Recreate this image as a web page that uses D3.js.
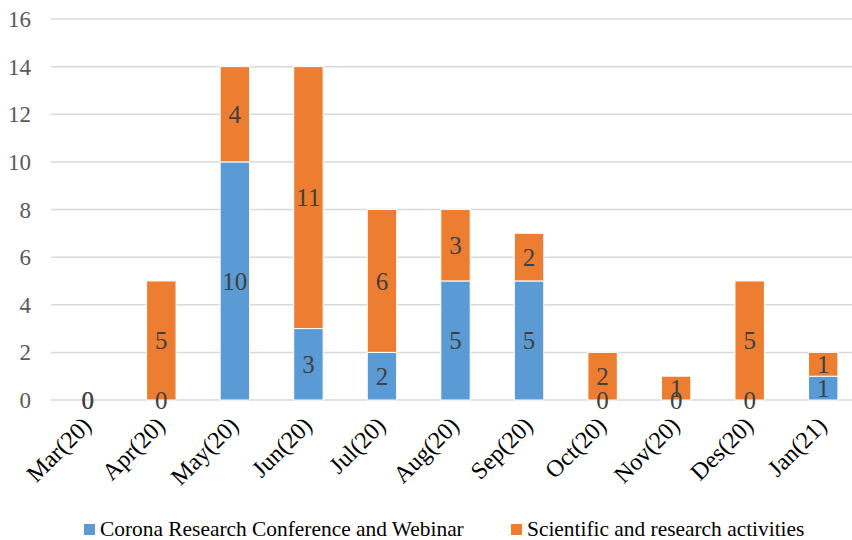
<!DOCTYPE html>
<html>
  <head>
    <meta charset="utf-8">
    <title>Corona research activities</title>
    <style>
    body{
      margin: 0;
      background: #fff;
    }
    </style>
    <script src="https://d3js.org/d3.v7.min.js"></script>
  </head>
  <body>
    <div id="container"></div>
    <script>
    //size of the picture
    const width = 852,
          height = 540;

    //chart data
    var months = ["Mar(20)", "Apr(20)", "May(20)", "Jun(20)", "Jul(20)", "Aug(20)",
                  "Sep(20)", "Oct(20)", "Nov(20)", "Des(20)", "Jan(21)"];
    var conference = [0, 0, 10, 3, 2, 5, 5, 0, 0, 0, 1];
    var scientific = [0, 5, 4, 11, 6, 3, 2, 2, 1, 5, 1];
    var seriesNames = ["Corona Research Conference and Webinar", "Scientific and research activities"];
    var yTicks = [0, 2, 4, 6, 8, 10, 12, 14, 16];

    var colors = ["#5b9bd5", "#ed7d31"];
    var serif = "'Liberation Serif', 'Times New Roman', Times, 'DejaVu Serif', serif";

    //plot area (not called "top", that one belongs to window)
    var plotLeft = 51, plotRight = 860, plotTop = 19, plotBottom = 400;

    var rows = months.map(function(m, i){
      return {month: m, conference: conference[i], scientific: scientific[i]};
    });
    var stacked = d3.stack().keys(["conference", "scientific"])(rows);

    var x = d3.scaleBand()
      .domain(months)
      .range([plotLeft, plotRight])
      .paddingInner(0.6)
      .paddingOuter(0.3);

    var y = d3.scaleLinear()
      .domain([0, 16])
      .range([plotBottom, plotTop]);

    var svg = d3.select("#container")
      .append("svg")
      .attr("width", width)
      .attr("height", height)
      .attr("font-family", serif)
      .style("display", "block");

    //gridlines
    svg.append("g")
      .selectAll("line")
      .data(yTicks)
      .enter()
      .append("line")
      .attr("x1", plotLeft)
      .attr("x2", plotRight)
      .attr("y1", function(d){ return y(d); })
      .attr("y2", function(d){ return y(d); })
      .attr("stroke", "#d9d9d9")
      .attr("stroke-width", 1.5);

    //y axis labels
    svg.append("g")
      .selectAll("text")
      .data(yTicks)
      .enter()
      .append("text")
      .attr("x", 31)
      .attr("y", function(d){ return y(d); })
      .attr("dy", "0.35em")
      .attr("text-anchor", "end")
      .attr("font-size", 23)
      .attr("fill", "#595959")
      .text(function(d){ return d; });

    //bars
    var groups = svg.append("g")
      .selectAll("g")
      .data(stacked)
      .enter()
      .append("g")
      .attr("fill", function(d, i){ return colors[i]; });

    groups.selectAll("rect")
      .data(function(d){ return d; })
      .enter()
      .append("rect")
      .attr("x", function(d){ return x(d.data.month); })
      .attr("y", function(d){ return y(d[1]); })
      .attr("width", x.bandwidth())
      .attr("height", function(d){ return y(d[0]) - y(d[1]); })
      .attr("stroke", "#fff")
      .attr("stroke-width", function(d){ return d[1] > d[0] ? 1 : 0; });

    //value labels in the middle of each segment, drawn after all bars
    var labelGroups = svg.append("g")
      .selectAll("g")
      .data(stacked)
      .enter()
      .append("g");

    labelGroups.selectAll("text")
      .data(function(d){ return d; })
      .enter()
      .append("text")
      .attr("x", function(d){ return x(d.data.month) + x.bandwidth() / 2; })
      .attr("y", function(d){ return y((d[0] + d[1]) / 2); })
      .attr("dy", "0.35em")
      .attr("text-anchor", "middle")
      .attr("font-size", 25)
      .attr("fill", "#404040")
      .text(function(d){ return d[1] - d[0]; });

    //x axis labels, rotated
    svg.append("g")
      .selectAll("text")
      .data(months)
      .enter()
      .append("text")
      .attr("transform", function(d){
        return "translate(" + (x(d) + x.bandwidth() / 2 + 5) + "," + (plotBottom + 27) + ") rotate(-45)";
      })
      .attr("text-anchor", "end")
      .attr("font-size", 24)
      .attr("fill", "#000")
      .text(function(d){ return d; });

    //legend
    var legendX = [84, 511];
    var legend = svg.append("g")
      .selectAll("g")
      .data(seriesNames)
      .enter()
      .append("g")
      .attr("transform", function(d, i){ return "translate(" + legendX[i] + ",524)"; });

    legend.append("rect")
      .attr("width", 11)
      .attr("height", 11)
      .attr("fill", function(d, i){ return colors[i]; });

    legend.append("text")
      .attr("x", 16)
      .attr("y", 12)
      .attr("font-size", 21.4)
      .attr("fill", "#000")
      .text(function(d){ return d; });
    </script>
  </body>
</html>
